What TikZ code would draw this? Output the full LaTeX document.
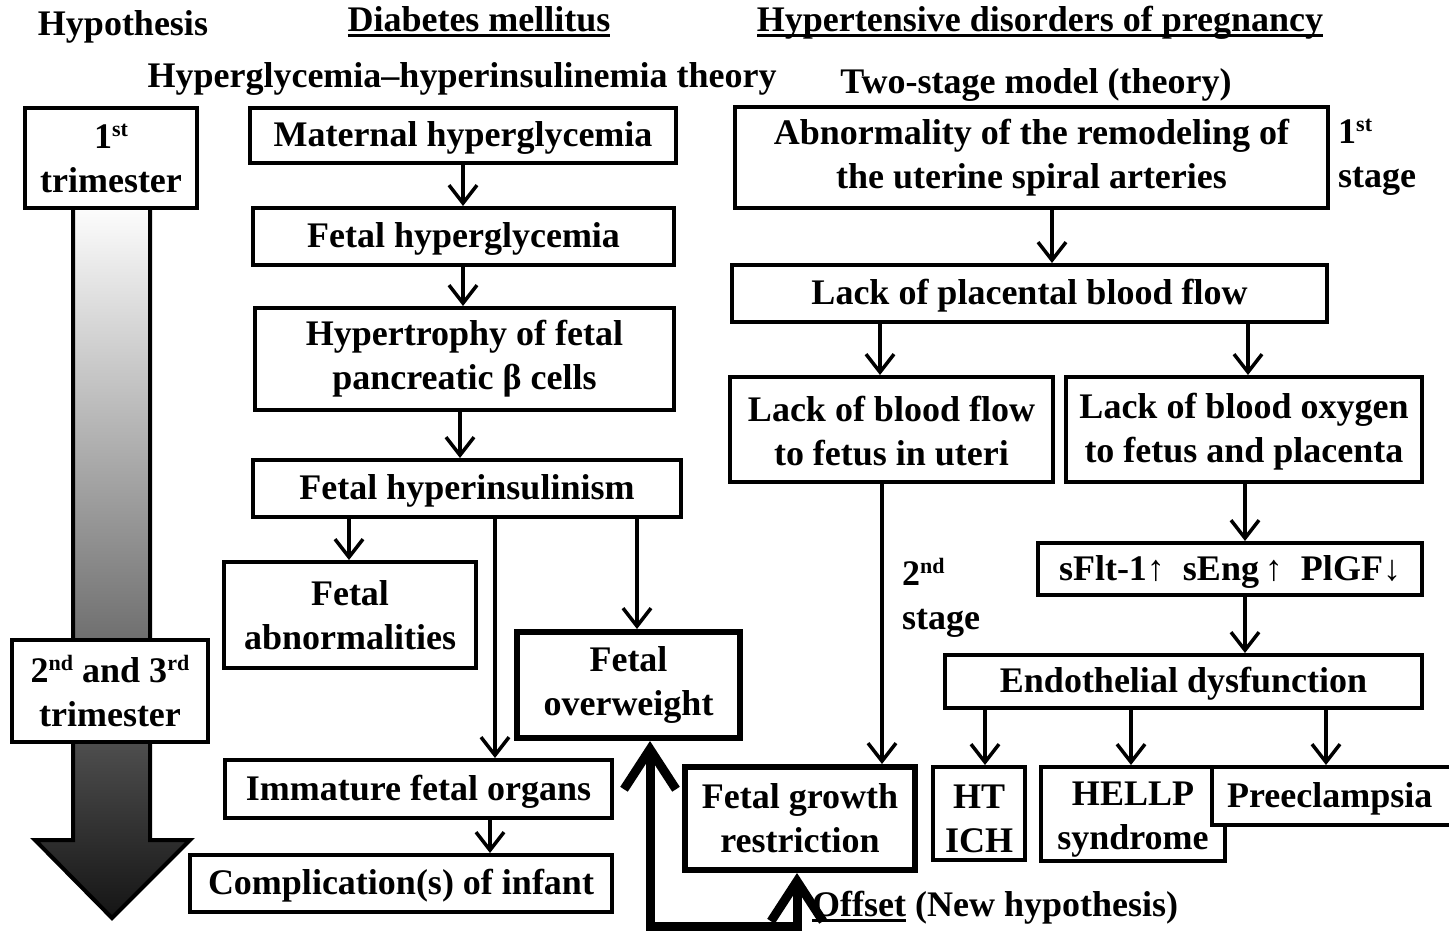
\documentclass[tikz,border=0pt]{standalone}
\usepackage{fontspec}
\setmainfont{Liberation Serif}
\usetikzlibrary{arrows.meta}
\newcommand\fs{\fontsize{36}{44}\selectfont\bfseries}
\newcommand\sups[1]{\raisebox{12pt}{\fontsize{22}{22}\selectfont #1}}
\newcommand\myul[1]{\leavevmode\setbox0\hbox{#1}\rlap{\copy0}\rule[-6pt]{\wd0}{3pt}}
\tikzset{
  box/.style={draw, line width=4pt, fill=white, inner sep=0pt, align=center, font=\fs},
  tbox/.style={box, line width=6pt},
  lbl/.style={inner sep=0pt, align=center, font=\fs},
  arr/.style={line width=3.5pt, -{Straight Barb[length=18pt, width=28pt]}},
  bigarr/.style={line width=9pt, line join=miter, {Straight Barb[length=40pt, width=52pt]}-{Straight Barb[length=40pt, width=52pt]}}
}
\begin{document}
\begin{tikzpicture}[x=1pt, y=-1pt]
\useasboundingbox (0,0) rectangle (1449,932);
\clip (0,0) rectangle (1449,932);
\fill[white] (0,0) rectangle (1449,932);

% x positions for connectors
\coordinate (x349) at (349,0);
\coordinate (x463) at (463,0);
\coordinate (x460) at (460,0);
\coordinate (x490) at (490,0);
\coordinate (x495) at (495,0);
\coordinate (x637) at (637,0);
\coordinate (x650) at (650,0);
\coordinate (x797) at (797,0);
\coordinate (x880) at (880,0);
\coordinate (x882) at (882,0);
\coordinate (x985) at (985,0);
\coordinate (x1052) at (1052,0);
\coordinate (x1131) at (1131,0);
\coordinate (x1245) at (1245,0);
\coordinate (x1248) at (1248,0);
\coordinate (x1326) at (1326,0);
\coordinate (yb) at (0,926);

% headers
\node[lbl, anchor=base] (hh) at (123,35) {Hypothesis};
\node[lbl, anchor=base] (hd) at (479,31) {\myul{Diabetes mellitus}};
\node[lbl, anchor=base] (hp) at (1040,31) {\myul{Hypertensive disorders of pregnancy}};
\node[lbl, anchor=base] (th1) at (462,87) {Hyperglycemia–hyperinsulinemia theory};
\node[lbl, anchor=base] (th2) at (1036,93) {Two-stage model (theory)};

% time arrow
\shadedraw[top color=white, bottom color=black!92, line width=4pt, line join=miter]
  (73,200) -- (150,200) -- (150,840) -- (190,840) -- (112,918) -- (35,840) -- (73,840) -- cycle;
\node[box, minimum width=172pt, minimum height=100pt] (t1) at (111,158) {1\sups{st}\\trimester};
\node[box, minimum width=196pt, minimum height=102pt] (t23) at (110,691) {2\sups{nd} and 3\sups{rd}\\trimester};

% diabetes column
\node[box, minimum width=426pt, minimum height=55pt] (mh) at (463,135.5) {\rule{0pt}{30pt}Maternal hyperglycemia};
\node[box, minimum width=421pt, minimum height=57pt] (fh) at (463.5,236.5) {\rule{0pt}{30pt}Fetal hyperglycemia};
\node[box, minimum width=419pt, minimum height=102pt] (hyp) at (464.5,359) {Hypertrophy of fetal\\pancreatic β cells};
\node[box, minimum width=428pt, minimum height=57pt] (fhi) at (467,488.5) {\rule{0pt}{30pt}Fetal hyperinsulinism};
\node[box, minimum width=252pt, minimum height=106pt] (fa) at (350,615) {Fetal\\abnormalities};
\node[tbox, minimum width=223pt, minimum height=106pt] (fo) at (628.5,685) {Fetal\\overweight};
\node[box, minimum width=387pt, minimum height=58pt] (ifo) at (418.5,789) {\rule{0pt}{30pt}Immature fetal organs};
\node[box, minimum width=422pt, minimum height=57pt] (ci) at (401,883.5) {\rule{0pt}{30pt}Complication(s) of infant};

\draw[arr] (mh.south -| x463) -- (fh.north -| x463);
\draw[arr] (fh.south -| x463) -- (hyp.north -| x463);
\draw[arr] (hyp.south -| x460) -- (fhi.north -| x460);
\draw[arr] (fhi.south -| x349) -- (fa.north -| x349);
\draw[arr] (fhi.south -| x495) -- (ifo.north -| x495);
\draw[arr] (fhi.south -| x637) -- (fo.north -| x637);
\draw[arr] (ifo.south -| x490) -- (ci.north -| x490);

% hypertensive column
\node[box, minimum width=593pt, minimum height=101pt] (ab) at (1031.5,157.5) {Abnormality of the remodeling of\\the uterine spiral arteries};
\node[lbl, align=left, anchor=west] (s1) at (1338,157) {1\sups{st}\\stage};
\node[box, minimum width=595pt, minimum height=57pt] (lp) at (1029.5,293.5) {\rule{0pt}{30pt}Lack of placental blood flow};
\node[box, minimum width=323pt, minimum height=105pt] (lbf) at (891.5,429.5) {\rule{0pt}{29pt}Lack of blood flow\\to fetus in uteri};
\node[box, minimum width=356pt, minimum height=105pt] (lbo) at (1244,429.5) {\rule{0pt}{29pt}Lack of blood oxygen\\to fetus and placenta};
\node[lbl, align=left, anchor=west] (s2) at (902,598) {2\sups{nd}\\stage};
\node[box, minimum width=384pt, minimum height=52pt] (sf) at (1230,569) {\rule{0pt}{30pt}sFlt-1↑\ \ sEng\,↑\ \ PlGF↓};
\node[box, minimum width=477pt, minimum height=53pt] (ed) at (1183.5,681.5) {\rule{0pt}{30pt}Endothelial dysfunction};
\node[tbox, minimum width=230pt, minimum height=103pt] (fgr) at (800,818.5) {Fetal growth\\restriction};
\node[box, minimum width=92pt, minimum height=93pt] (ht) at (979,813.5) {\rule{0pt}{34pt}HT\\ICH};
\node[box, minimum width=184pt, minimum height=94pt] (hellp) at (1133,814) {\rule{0pt}{35pt}HELLP\\syndrome};
\node[box, anchor=west, text width=230pt, align=left, inner xsep=15pt, minimum height=58pt] (pre) at (1210,796) {\rule{0pt}{30pt}Preeclampsia};

\draw[arr] (ab.south -| x1052) -- (lp.north -| x1052);
\draw[arr] (lp.south -| x880) -- (lbf.north -| x880);
\draw[arr] (lp.south -| x1248) -- (lbo.north -| x1248);
\draw[arr] (lbf.south -| x882) -- (fgr.north -| x882);
\draw[arr] (lbo.south -| x1245) -- (sf.north -| x1245);
\draw[arr] (sf.south -| x1245) -- (ed.north -| x1245);
\draw[arr] (ed.south -| x985) -- (ht.north -| x985);
\draw[arr] (ed.south -| x1131) -- (hellp.north -| x1131);
\draw[arr] (ed.south -| x1326) -- (pre.north -| x1326);

% offset
\draw[bigarr] (fo.south -| x650) -- (x650 |- yb) -- (x797 |- yb) -- (fgr.south -| x797);
\node[lbl, anchor=base west] (off) at (812,916) {\myul{Offset} (New hypothesis)};
\end{tikzpicture}
\end{document}
